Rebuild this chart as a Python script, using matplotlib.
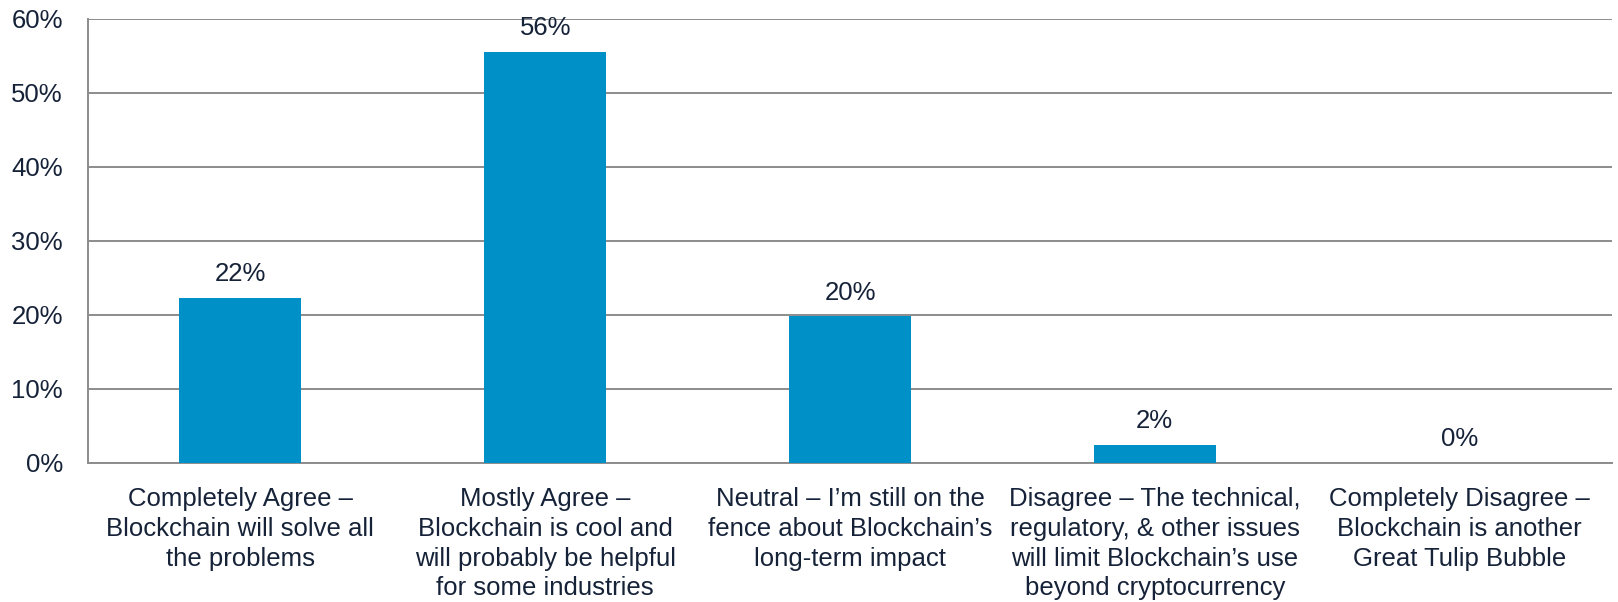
import matplotlib

matplotlib.use("Agg")
import matplotlib.pyplot as plt

plt.rcParams["font.family"] = ["Liberation Sans", "DejaVu Sans"]

TEXT = "#152238"
BAR = "#0090c8"
GRID = "#8c8c8c"
FS = 18.5

categories = [
    "Completely Agree \u2013\nBlockchain will solve all\nthe problems",
    "Mostly Agree \u2013\nBlockchain is cool and\nwill probably be helpful\nfor some industries",
    "Neutral \u2013 I\u2019m still on the\nfence about Blockchain\u2019s\nlong-term impact",
    "Disagree \u2013 The technical,\nregulatory, & other issues\nwill limit Blockchain\u2019s use\nbeyond cryptocurrency",
    "Completely Disagree \u2013\nBlockchain is another\nGreat Tulip Bubble",
]
values = [22.3, 55.6, 19.8, 2.5, 0.0]
labels = ["22%", "56%", "20%", "2%", "0%"]
yticks = [0, 10, 20, 30, 40, 50, 60]

fig = plt.figure(figsize=(16.18, 6.02), dpi=100)
ax = fig.add_axes([88 / 1618, 1 - 463 / 602, (1612 - 88) / 1618, (463 - 19) / 602])

x = range(len(categories))
ax.bar(x, values, width=0.4, color=BAR, zorder=3)
for i, (v, lab) in enumerate(zip(values, labels)):
    ax.annotate(lab, (i, v), xytext=(0, 8.5), textcoords="offset points",
                ha="center", va="bottom", fontsize=FS, color=TEXT)

ax.set_xlim(-0.5, len(categories) - 0.5)
ax.set_ylim(0, 60)
ax.set_yticks(yticks, labels=[f"{t}%" for t in yticks])
ax.set_xticks(list(x), labels=categories)
ax.tick_params(axis="y", length=0, pad=18, labelsize=FS, labelcolor=TEXT)
ax.tick_params(axis="x", length=0, pad=17.5, labelsize=FS, labelcolor=TEXT)
for lab in ax.get_xticklabels():
    lab.set_linespacing(1.3)

ax.grid(axis="y", color=GRID, linewidth=1.4, zorder=0)
for side in ["top", "right"]:
    ax.spines[side].set_visible(False)
for side in ["left", "bottom"]:
    ax.spines[side].set_color(GRID)
    ax.spines[side].set_linewidth(1.4)

fig.savefig("out.png", dpi=100, facecolor="white")
